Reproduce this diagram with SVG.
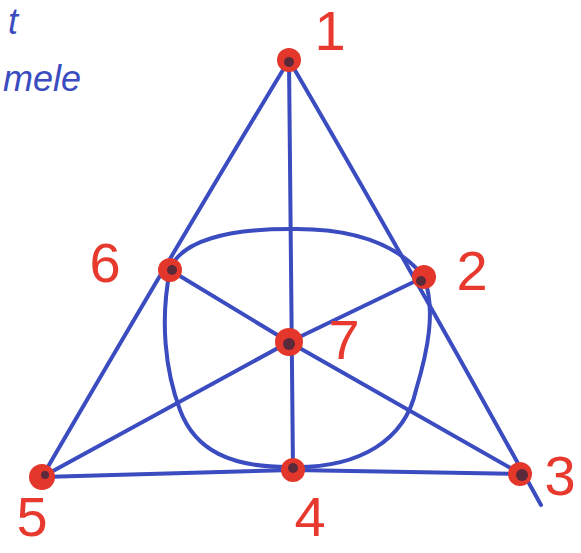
<svg xmlns="http://www.w3.org/2000/svg" width="581" height="553" viewBox="0 0 581 553">
<style>
.ln{fill:none;stroke:#3a4cc0;stroke-width:4;stroke-linecap:round;stroke-linejoin:round}
.nd{fill:#e3372c}
.ctr{fill:#5a2a3a}
.lbl{font-family:"Liberation Sans",sans-serif;font-size:56px;fill:#e8392f;text-anchor:middle}
.hw{font-family:"Liberation Sans",sans-serif;font-style:italic;font-size:36px;fill:#3a4cc0}
</style>
<rect width="581" height="553" fill="#ffffff"/>
<text class="hw" x="8" y="34" font-size="24">t</text>
<text class="hw" x="3" y="91">mele</text>
<g id="connectors">
<path class="ln" d="M289,60 Q180,240 42,477"/>
<path class="ln" d="M289,60 Q400,250 541,505"/>
<path class="ln" d="M42,477 L293,470 L528,474"/>
<path class="ln" d="M289,60 L293,470"/>
<path class="ln" d="M170,270 L289,342 L521,474"/>
<path class="ln" d="M42,477 L289,342 L424,277"/>
<path class="ln" d="M290,229 C345,228 395,240 424,277 C436,310 428,350 416,390 C405,440 360,468 293,467 C230,468 195,450 180,410 C165,370 160,320 170,270 C180,240 230,229 290,229 Z"/>
</g>
<g id="n1"><circle class="nd" cx="289" cy="60" r="12"/><circle class="ctr" cx="289" cy="62" r="5"/><text class="lbl" x="330" y="50">1</text></g>
<g id="n2"><circle class="nd" cx="424" cy="277" r="12"/><circle class="ctr" cx="421" cy="281" r="5"/><text class="lbl" x="472" y="290">2</text></g>
<g id="n3"><circle class="nd" cx="520" cy="474" r="12"/><circle class="ctr" cx="522" cy="475" r="6"/><text class="lbl" x="560" y="495">3</text></g>
<g id="n4"><circle class="nd" cx="293" cy="470" r="12"/><circle class="ctr" cx="293" cy="468" r="5"/><text class="lbl" x="310" y="536">4</text></g>
<g id="n5"><circle class="nd" cx="42" cy="477" r="13"/><circle class="ctr" cx="45" cy="475" r="4"/><text class="lbl" x="32" y="536">5</text></g>
<g id="n6"><circle class="nd" cx="170" cy="270" r="12"/><circle class="ctr" cx="172" cy="270" r="5"/><text class="lbl" x="105" y="282">6</text></g>
<g id="n7"><circle class="nd" cx="289" cy="342" r="14"/><circle class="ctr" cx="289" cy="344" r="6"/><text class="lbl" x="344" y="359" font-size="34">7</text></g>
</svg>
